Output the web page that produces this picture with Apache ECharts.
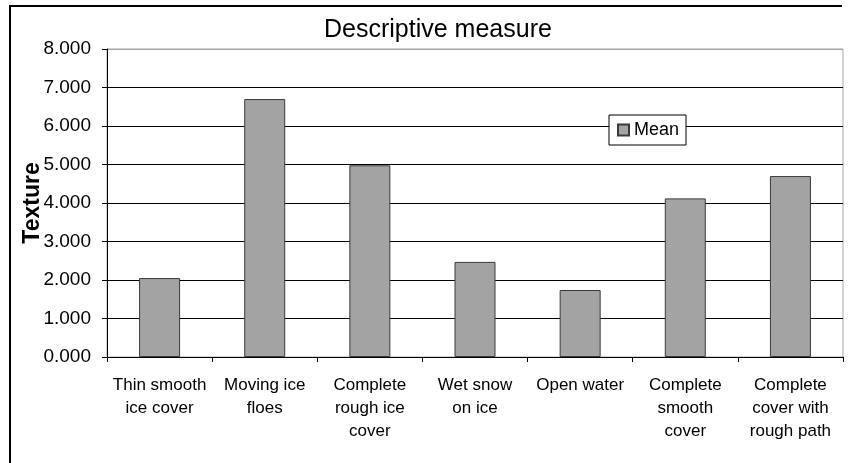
<!DOCTYPE html>
<html>
<head>
<meta charset="utf-8">
<script src="https://cdn.jsdelivr.net/npm/echarts@6/dist/echarts.min.js"></script>
<style>
  html, body { margin: 0; padding: 0; background: #fff; }
  #chart { width: 852px; height: 463px; }
</style>
</head>
<body>
<div id="chart"></div>
<script>
// categories along the x axis (line breaks as in the original)
var categories = [
    'Thin smooth\nice cover',
    'Moving ice\nfloes',
    'Complete\nrough ice\ncover',
    'Wet snow\non ice',
    'Open water',
    'Complete\nsmooth\ncover',
    'Complete\ncover with\nrough path'
];
// mean texture per category
var meanValues = [2.05, 6.70, 4.98, 2.47, 1.74, 4.12, 4.70];
var seriesName = 'Mean';
var titleText = 'Descriptive measure';
var yName = 'Texture';

var font = '"Liberation Sans", Arial, sans-serif';

var chart = echarts.init(document.getElementById('chart'));
var option = {
    backgroundColor: '#fff',
    animation: false,
    title: {
        text: titleText,
        left: 324,
        top: 18,
        padding: 0,
        textStyle: { fontFamily: font, fontSize: 25, fontWeight: 'normal', color: '#000' }
    },
    legend: {
        data: [seriesName],
        left: 609,
        top: 115,
        padding: [6, 7, 6, 8],
        backgroundColor: '#fff',
        borderColor: '#000',
        borderWidth: 1,
        borderRadius: 0,
        itemWidth: 11,
        itemHeight: 11,
        icon: 'rect',
        textStyle: { fontFamily: font, fontSize: 18, color: '#000' }
    },
    grid: {
        left: 107,
        right: 9,
        top: 49,
        bottom: 106,
        show: true,
        borderColor: '#a6a6a6',
        borderWidth: 1,
        backgroundColor: 'transparent'
    },
    xAxis: {
        type: 'category',
        data: categories,
        axisLine: { lineStyle: { color: '#000', width: 1 } },
        axisTick: { show: true, length: 5, inside: false, lineStyle: { color: '#000' } },
        axisLabel: {
            interval: 0,
            margin: 17,
            fontFamily: font,
            fontSize: 17,
            lineHeight: 23,
            color: '#000',
            align: 'center'
        }
    },
    yAxis: {
        type: 'value',
        min: 0,
        max: 8,
        interval: 1,
        name: yName,
        nameLocation: 'middle',
        nameRotate: 90,
        nameGap: 63,
        nameMoveOverlap: false,
        nameTextStyle: { fontFamily: font, fontSize: 23, fontWeight: 'bold', color: '#000' },
        axisLine: { show: true, lineStyle: { color: '#000', width: 1 } },
        axisTick: { show: true, length: 5, inside: false, lineStyle: { color: '#000' } },
        axisLabel: {
            margin: 16,
            fontFamily: font,
            fontSize: 19,
            color: '#000',
            formatter: function (v) { return v.toFixed(3); }
        },
        splitLine: {
            show: true,
            lineStyle: {
                color: ['#000', '#000', '#000', '#000', '#000', '#000', '#000', '#000', '#a6a6a6'],
                width: 1
            }
        }
    },
    series: [{
        name: seriesName,
        type: 'bar',
        data: meanValues,
        barWidth: 41,
        itemStyle: {
            color: '#a3a3a3',
            borderColor: '#3a3a3a',
            borderWidth: 1
        }
    }],
    graphic: [{
        type: 'polyline',
        silent: true,
        shape: { points: [[10, 463], [10, 6], [842, 6]] },
        style: { stroke: '#000', lineWidth: 2, fill: null }
    }]
};
chart.setOption(option);
</script>
</body>
</html>
